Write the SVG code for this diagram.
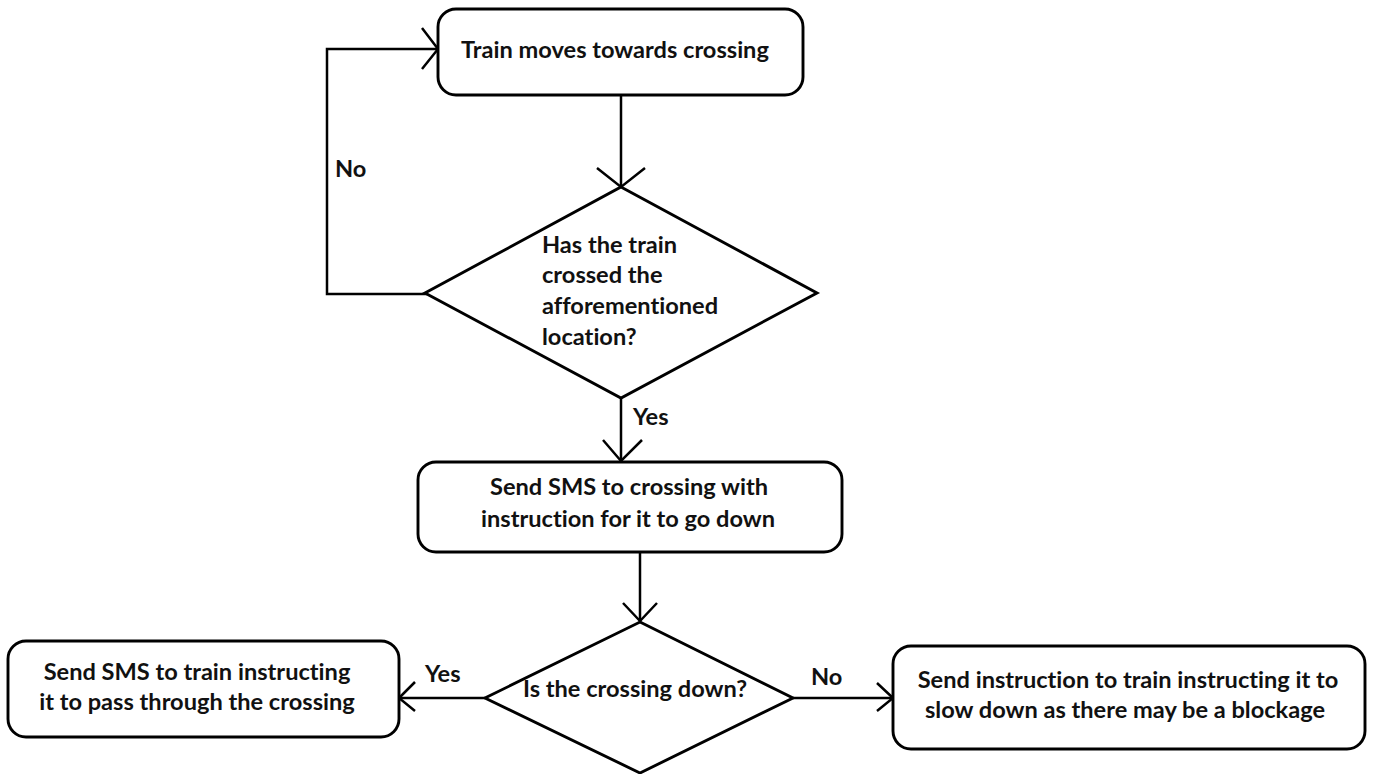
<svg xmlns="http://www.w3.org/2000/svg" width="1373" height="774" viewBox="0 0 1373 774">
<style>
.box{fill:#fff;stroke:#000;stroke-width:2.9}
.ln{fill:none;stroke:#000;stroke-width:2.5;stroke-linejoin:miter}
text{font-family:Lato,"Open Sans","Liberation Sans",sans-serif;font-weight:bold;font-size:23.6px;fill:#111;font-variant-ligatures:none}
.c{text-anchor:middle}
</style>
<rect width="1373" height="774" fill="#fff"/>
<g id="connectors">
<polyline class="ln" points="427,294 327,294 327,49 438,49"/>
<polyline class="ln" points="422,69 438,49 422,28"/>
<line class="ln" x1="621" y1="95" x2="621" y2="187"/>
<polyline class="ln" points="597,168 621,187 645,168"/>
<line class="ln" x1="621" y1="398" x2="621" y2="462"/>
<polyline class="ln" points="603,440 621,461 642,440"/>
<line class="ln" x1="640" y1="552" x2="640" y2="622"/>
<polyline class="ln" points="623,603 640,621 657,603"/>
<line class="ln" x1="485" y1="698" x2="399" y2="698"/>
<polyline class="ln" points="415,682 399,698 415,711"/>
<line class="ln" x1="793" y1="698" x2="893" y2="698"/>
<polyline class="ln" points="877,683 893,698 877,711"/>
<text x="335" y="177">No</text>
<text x="633" y="425">Yes</text>
<text x="425" y="682">Yes</text>
<text x="811" y="685">No</text>
</g>
<g id="n1">
<rect class="box" x="438" y="9" width="365" height="86" rx="18"/>
<text x="615" y="58" class="c">Train moves towards crossing</text>
</g>
<g id="n2">
<polygon class="box" points="621,187 817,293 621,398 425,293"/>
<text x="542" y="253">Has the train</text>
<text x="542" y="283">crossed the</text>
<text x="542" y="314">afforementioned</text>
<text x="542" y="345">location?</text>
</g>
<g id="n3">
<rect class="box" x="418" y="462" width="424" height="90" rx="18"/>
<text x="629" y="495" class="c">Send SMS to crossing with</text>
<text x="628" y="527" class="c">instruction for it to go down</text>
</g>
<g id="n4">
<polygon class="box" points="640,622 793,698 640,773 485,698"/>
<text x="635" y="697" class="c">Is the crossing down?</text>
</g>
<g id="n5">
<rect class="box" x="8" y="641" width="391" height="96" rx="18"/>
<text x="197" y="680" class="c">Send SMS to train instructing</text>
<text x="197" y="710" class="c">it to pass through the crossing</text>
</g>
<g id="n6">
<rect class="box" x="893" y="646" width="472" height="103" rx="18"/>
<text x="1128" y="688" class="c">Send instruction to train instructing it to</text>
<text x="1125" y="718" class="c">slow down as there may be a blockage</text>
</g>
</svg>
